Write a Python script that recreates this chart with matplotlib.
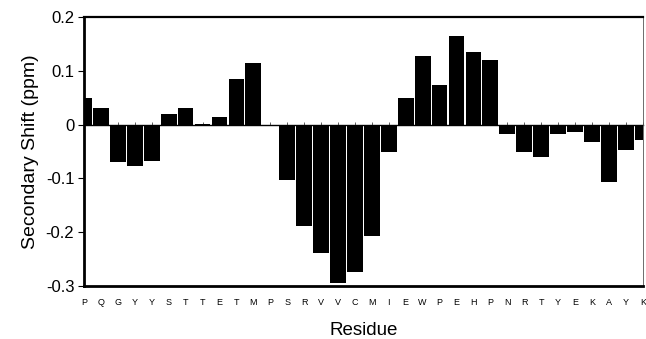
import matplotlib
matplotlib.use("Agg")
import matplotlib.pyplot as plt
import numpy as np

plt.rcParams['font.family'] = ['Liberation Sans', 'DejaVu Sans']

residues = ["P", "Q", "G", "Y", "Y", "S", "T", "T", "E", "T", "M", "P", "S", "R", "V", "V",
            "C", "M", "I", "E", "W", "P", "E", "H", "P", "N", "R", "T", "Y", "E", "K", "A", "Y", "K"]
shifts = [0.049, 0.030, -0.069, -0.076, -0.067, 0.020, 0.031, 0.002, 0.014, 0.085, 0.115, -0.002,
          -0.103, -0.188, -0.238, -0.295, -0.273, -0.207, -0.051, 0.049, 0.128, 0.074, 0.165,
          0.135, 0.120, -0.017, -0.050, -0.061, -0.017, -0.014, -0.033, -0.107, -0.048, -0.029]
yticks = [-0.3, -0.2, -0.1, 0, 0.1, 0.2]
ytick_labels = ["-0.3", "-0.2", "-0.1", "0", "0.1", "0.2"]

fig = plt.figure(figsize=(6.46, 3.39), dpi=100)
ax = fig.add_axes([0.130, 0.156, 0.865, 0.794])

x = np.arange(len(residues))
ax.bar(x, shifts, width=0.93, color="black", edgecolor="none", zorder=2)

ax.set_xlim(0, len(residues) - 1)
ax.set_ylim(-0.3, 0.2)
ax.set_yticks(yticks)
ax.set_yticklabels(ytick_labels, fontsize=12)
ax.set_xticks(x)
ax.set_xticklabels(residues, fontsize=6.5)
ax.tick_params(axis='x', length=0, pad=8.5)
ax.tick_params(axis='y', direction='out', length=4, width=0.8, pad=3)

for side in ['left', 'bottom']:
    ax.spines[side].set_linewidth(2.0)
ax.spines['top'].set_linewidth(1.6)
ax.spines['right'].set_linewidth(0.6)
ax.spines['right'].set_color('#555555')

# zero-line axis with ticks
zero_frac = (0 - (-0.3)) / (0.2 - (-0.3))
sec = ax.secondary_xaxis(zero_frac)
sec.set_xticks(x)
sec.set_xticklabels([])
sec.tick_params(direction='out', length=2.5, width=0.6, color='#444444')
sec.spines['bottom'].set_linewidth(1.0)
sec.spines['top'].set_linewidth(1.0)

ax.set_ylabel("Secondary Shift (ppm)", fontsize=14, labelpad=5)
ax.set_xlabel("Residue", fontsize=13.5, labelpad=11)

fig.savefig("out.png", dpi=100)
